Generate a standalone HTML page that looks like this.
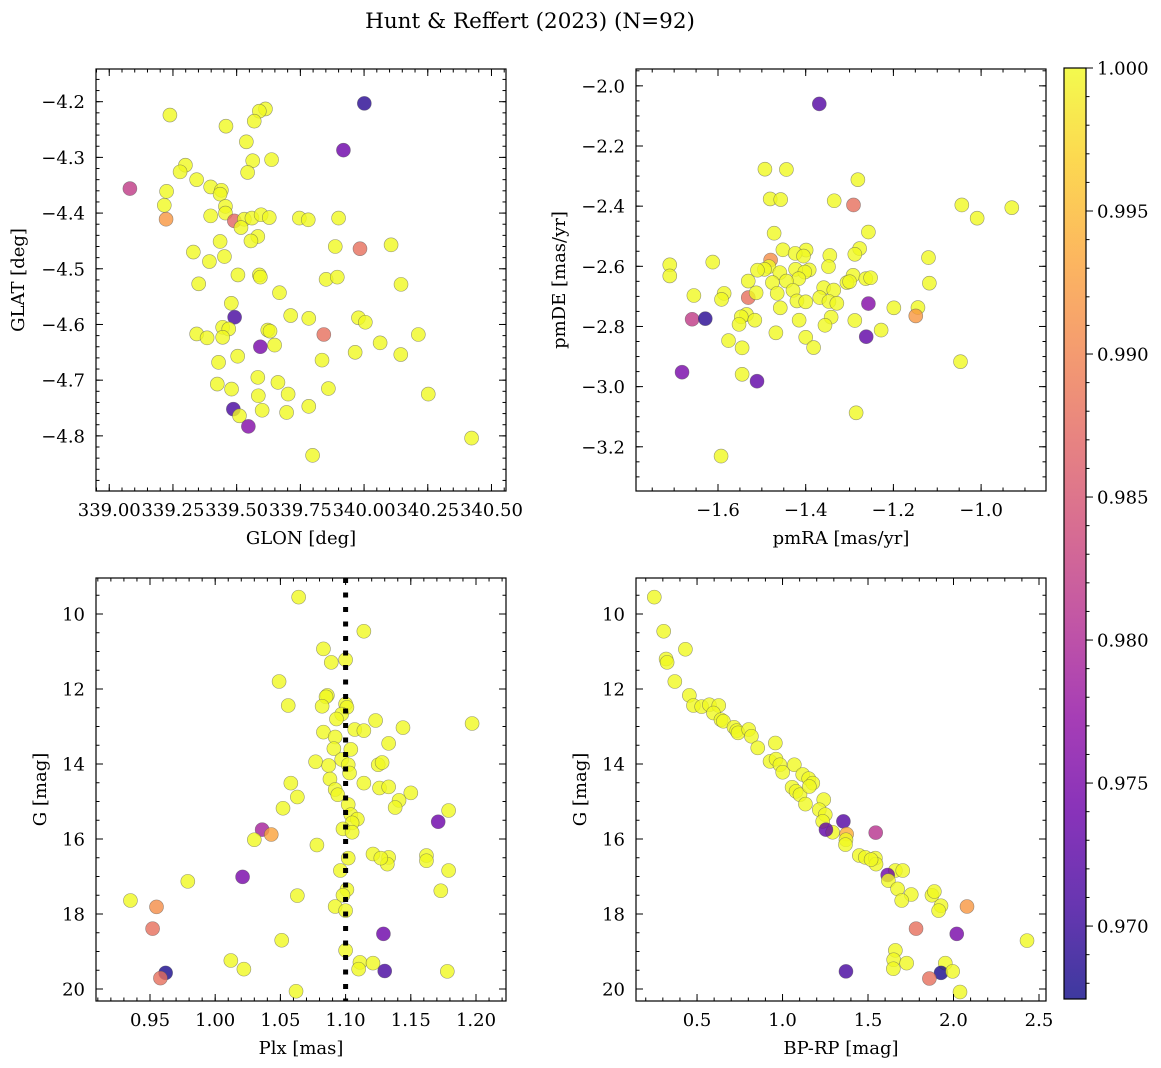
<!DOCTYPE html>
<html><head><meta charset="utf-8"><style>
html,body{margin:0;padding:0;background:#fff}
svg{display:block}
text{font-family:"DejaVu Serif","Liberation Serif",serif;fill:#000}
</style></head><body>
<svg id="fig" xmlns="http://www.w3.org/2000/svg" width="1161" height="1068" viewBox="0 0 1161 1068">
<rect width="1161" height="1068" fill="#fff"/>
<text x="530" y="28" text-anchor="middle" font-size="21.5">Hunt &amp; Reffert (2023) (N=92)</text>
</svg>
<script>
// ---------- Panel 1: GLON vs GLAT ----------
const p1Glon=[340.001,339.919,339.081,339.238,339.613,339.589,339.569,339.458,339.538,339.563,339.637,339.543,339.299,339.278,339.343,339.398,339.440,339.435,339.225,339.216,339.223,339.456,339.456,339.398,339.491,339.530,339.560,339.596,339.628,339.517,339.746,339.781,339.900,339.583,339.556,339.435,339.887,339.984,340.106,339.330,339.452,339.393,339.505,339.589,339.593,339.851,339.895,340.145,339.351,339.668,339.479,339.492,339.712,339.783,339.978,340.005,339.842,340.213,339.445,339.469,339.343,339.384,339.445,339.622,339.631,339.649,339.593,340.063,339.965,339.504,340.144,339.429,339.835,339.583,339.662,339.424,339.480,339.585,339.702,339.860,340.252,339.487,339.511,339.600,339.696,339.783,339.546,340.422,339.798];
const p1Glat=[-4.203,-4.287,-4.356,-4.224,-4.213,-4.217,-4.235,-4.244,-4.272,-4.306,-4.304,-4.327,-4.314,-4.326,-4.340,-4.353,-4.359,-4.366,-4.361,-4.386,-4.411,-4.388,-4.400,-4.405,-4.414,-4.411,-4.409,-4.403,-4.408,-4.426,-4.409,-4.412,-4.409,-4.442,-4.450,-4.451,-4.460,-4.464,-4.457,-4.470,-4.478,-4.487,-4.511,-4.511,-4.515,-4.519,-4.515,-4.528,-4.527,-4.543,-4.562,-4.587,-4.584,-4.589,-4.588,-4.596,-4.618,-4.618,-4.605,-4.608,-4.617,-4.624,-4.623,-4.610,-4.612,-4.637,-4.640,-4.633,-4.650,-4.657,-4.654,-4.668,-4.664,-4.695,-4.704,-4.707,-4.716,-4.728,-4.725,-4.715,-4.725,-4.752,-4.764,-4.754,-4.758,-4.747,-4.783,-4.804,-4.835];
const p1Prob=[0.969,0.974,0.982,1,1,1,1,1,1,1, 1,1,1,1,1,1,1,1,1,1, 0.992,1,1,1,0.987,1,1,1,1,1, 1,1,1,1,1,1,1,0.988,1,1, 1,1,1,1,1,1,1,1,1,1, 1,0.971,1,1,1,1,0.988,1,1,1, 1,1,1,1,1,1,0.975,1,1,1, 1,1,1,1,1,1,1,1,1,1, 1,0.971,1,1,1,1,0.976,1,1];
const p1XTicks=[339.00,339.25,339.50,339.75,340.00,340.25,340.50];
const p1YTicks=[-4.8,-4.7,-4.6,-4.5,-4.4,-4.3,-4.2];

// ---------- Panel 2: pmRA vs pmDE ----------
const p2PmRA=[-1.369,-1.493,-1.444,-1.281,-1.481,-1.457,-1.335,-1.291,-1.044,-0.930,-1.009,-1.472,-1.257,-1.452,-1.277,-1.288,-1.399,-1.424,-1.405,-1.345,-1.348,-1.120,-1.480,-1.710,-1.710,-1.612,-1.484,-1.494,-1.510,-1.459,-1.423,-1.392,-1.402,-1.416,-1.531,-1.476,-1.444,-1.292,-1.306,-1.300,-1.263,-1.252,-1.118,-1.359,-1.336,-1.429,-1.655,-1.586,-1.592,-1.531,-1.513,-1.465,-1.420,-1.400,-1.368,-1.347,-1.329,-1.257,-1.199,-1.144,-1.149,-1.458,-1.659,-1.629,-1.535,-1.547,-1.552,-1.516,-1.415,-1.342,-1.356,-1.288,-1.468,-1.400,-1.382,-1.262,-1.228,-1.576,-1.545,-1.047,-1.682,-1.545,-1.511,-1.285,-1.593];
const p2PmDE=[-2.060,-2.277,-2.278,-2.312,-2.376,-2.378,-2.382,-2.396,-2.396,-2.405,-2.440,-2.490,-2.486,-2.545,-2.541,-2.560,-2.546,-2.557,-2.566,-2.564,-2.601,-2.571,-2.579,-2.595,-2.632,-2.586,-2.601,-2.610,-2.613,-2.621,-2.610,-2.612,-2.619,-2.641,-2.649,-2.654,-2.649,-2.630,-2.654,-2.651,-2.641,-2.638,-2.656,-2.671,-2.679,-2.680,-2.697,-2.690,-2.710,-2.704,-2.688,-2.690,-2.715,-2.718,-2.704,-2.717,-2.723,-2.724,-2.738,-2.737,-2.765,-2.738,-2.776,-2.774,-2.760,-2.768,-2.793,-2.779,-2.779,-2.769,-2.796,-2.780,-2.821,-2.836,-2.870,-2.834,-2.812,-2.847,-2.871,-2.917,-2.952,-2.959,-2.982,-3.087,-3.231];
const p2Prob=[0.972,1,1,1,1,1,1,0.988,1,1, 1,1,1,1,1,1,1,1,1,1, 1,1,0.991,1,1,1,1,1,1,1, 1,1,1,1,1,1,1,1,1,1, 1,1,1,1,1,1,1,1,1,0.988, 1,1,1,1,1,1,1,0.976,1,1, 0.992,1,0.982,0.969,1,1,1,1,1,1, 1,1,1,1,1,0.973,1,1,1,1, 0.975,1,0.973,1,1];
const p2XTicks=[-1.6,-1.4,-1.2,-1.0];
const p2YTicks=[-3.2,-3.0,-2.8,-2.6,-2.4,-2.2,-2.0];

// ---------- Panel 3: Plx vs G ----------
const p3Plx=[1.064,1.114,1.083,1.089,1.100,1.049,1.086,1.085,1.056,1.082,1.100,1.101,1.097,1.093,1.123,1.197,1.144,1.107,1.114,1.083,1.092,1.133,1.091,1.104,1.077,1.087,1.097,1.102,1.125,1.128,1.103,1.088,1.058,1.114,1.126,1.133,1.150,1.092,1.094,1.063,1.141,1.138,1.052,1.179,1.102,1.104,1.109,1.105,1.098,1.105,1.171,1.036,1.043,1.030,1.078,1.121,1.133,1.132,1.127,1.162,1.162,1.102,1.179,1.096,1.021,0.979,1.173,1.101,1.098,1.063,0.935,0.955,1.092,1.100,0.952,1.129,1.051,1.100,1.012,1.111,1.121,1.110,1.022,1.130,1.178,0.962,0.958,1.062];
const p3G=[9.55,10.46,10.93,11.29,11.22,11.80,12.17,12.21,12.44,12.46,12.40,12.49,12.67,12.80,12.84,12.92,13.03,13.08,13.11,13.15,13.28,13.45,13.59,13.61,13.94,14.04,13.88,14.02,14.02,13.96,14.24,14.40,14.51,14.51,14.64,14.61,14.77,14.68,14.82,14.88,14.97,15.16,15.18,15.24,15.08,15.35,15.47,15.57,15.73,15.82,15.54,15.75,15.88,16.02,16.16,16.40,16.49,16.67,16.51,16.44,16.58,16.51,16.84,16.84,17.01,17.13,17.38,17.35,17.50,17.51,17.64,17.81,17.80,17.91,18.39,18.53,18.70,18.97,19.24,19.29,19.31,19.47,19.47,19.52,19.53,19.57,19.71,20.06];
const p3Prob=[1,1,1,1,1,1,1,1,1,1, 1,1,1,1,1,1,1,1,1,1, 1,1,1,1,1,1,1,1,1,1, 1,1,1,1,1,1,1,1,1,1, 1,1,1,1,1,1,1,1,1,1, 0.974,0.979,0.993,1,1,1,1,1,1,1, 1,1,1,1,0.975,1,1,1,1,1, 1,0.991,1,1,0.988,0.974,1,1,1,1, 1,1,1,0.971,1,0.968,0.988,1];
const p3XTicks=[0.95,1.00,1.05,1.10,1.15,1.20];
const p3YTicks=[10,12,14,16,18,20];
const p3PlxRef=1.1;

// ---------- Panel 4: BP-RP vs G ----------
const p4BpRp=[0.25,0.305,0.432,0.319,0.325,0.370,0.455,0.479,0.527,0.572,0.627,0.596,0.640,0.654,0.716,0.732,0.740,0.802,0.818,0.855,0.958,0.927,0.962,0.985,1.001,1.069,1.118,1.153,1.177,1.056,1.079,1.102,1.134,1.157,1.241,1.215,1.250,1.235,1.293,1.254,1.356,1.545,1.375,1.371,1.368,1.449,1.484,1.543,1.547,1.518,1.660,1.703,1.615,1.619,1.673,1.753,1.697,1.874,1.888,1.927,1.913,2.079,1.781,2.019,2.430,1.660,1.650,1.726,1.648,1.371,1.952,1.927,1.995,1.859,2.038];
const p4G=[9.55,10.46,10.94,11.20,11.29,11.80,12.17,12.44,12.47,12.42,12.44,12.64,12.82,12.86,13.02,13.11,13.17,13.08,13.26,13.57,13.44,13.93,13.87,14.02,14.22,14.02,14.28,14.39,14.51,14.62,14.73,14.82,15.07,14.60,14.95,15.22,15.35,15.53,15.82,15.75,15.53,15.83,15.87,16.02,16.15,16.44,16.49,16.51,16.67,16.55,16.84,16.84,16.96,17.11,17.33,17.48,17.64,17.50,17.40,17.78,17.91,17.80,18.39,18.53,18.71,18.97,19.22,19.31,19.46,19.53,19.31,19.57,19.53,19.72,20.08];
const p4Prob=[1,1,1,1,1,1,1,1,1,1, 1,1,1,1,1,1,1,1,1,1, 1,1,1,1,1,1,1,1,1,1, 1,1,1,1,1,1,1,1,1,0.973, 0.972,0.981,0.994,1,1,1,1,1,1,1, 1,1,0.974,1,1,1,1,1,1,1, 1,0.992,0.988,0.975,1,1,1,1,1,0.971, 1,0.968,1,0.988,1];
const p4XTicks=[0.5,1.0,1.5,2.0,2.5];
const p4YTicks=[10,12,14,16,18,20];

// ---------- Colorbar ----------
const cbTicks=[0.970,0.975,0.980,0.985,0.990,0.995,1.000];
const cbMin=0.96745, cbMax=1.0;

const NS='http://www.w3.org/2000/svg';
const svg=document.getElementById('fig');
const FS=18;
function mk(tag,attrs,parent){const e=document.createElementNS(NS,tag);for(const k in attrs)e.setAttribute(k,attrs[k]);(parent||svg).appendChild(e);return e;}
const plasmaStops=[[0,13,8,135],[0.1,65,4,157],[0.2,106,0,168],[0.3,143,13,164],[0.4,177,42,144],[0.5,204,71,120],[0.6,225,100,98],[0.7,242,132,75],[0.8,252,166,54],[0.9,252,206,37],[1,240,249,33]];
function plasma(t){t=Math.max(0,Math.min(1,t));for(let i=1;i<plasmaStops.length;i++){const a=plasmaStops[i-1],b=plasmaStops[i];if(t<=b[0]){const f=(t-a[0])/(b[0]-a[0]);return `rgb(${Math.round(a[1]+f*(b[1]-a[1]))},${Math.round(a[2]+f*(b[2]-a[2]))},${Math.round(a[3]+f*(b[3]-a[3]))})`;}}return 'rgb(240,249,33)';}
function fmt(v,d){return (v<0?'\u2212':'')+Math.abs(v).toFixed(d);}

function panel(c){
  const g=mk('g',{});
  
  
  const sx=v=>c.L+(v-c.x0)/(c.x1-c.x0)*(c.R-c.L);
  const sy=v=>c.B-(v-c.y0)/(c.y1-c.y0)*(c.B-c.T);
  const pg=mk('g',{},g);
  
  
  for(let i=0;i<c.xs.length;i++){
    const p=mk('circle',{cx:sx(c.xs[i]),cy:sy(c.ys[i]),r:7,fill:plasma((c.ps[i]-cbMin)/(cbMax-cbMin)),'fill-opacity':0.8,stroke:'#555','stroke-opacity':0.6,'stroke-width':0.6},pg);
    
    
  }
  if(c.ref!==undefined){
    const l=mk('line',{x1:sx(c.ref),x2:sx(c.ref),y1:c.T,y2:c.B,stroke:'#000','stroke-width':5,'stroke-dasharray':'5 9.5'},g);
    
    
  }
  const f=mk('rect',{x:c.L,y:c.T,width:c.R-c.L,height:c.B-c.T,fill:'none',stroke:'#000','stroke-width':1.2},g);
  
  
  const eps=1e-9;
  const xs0=Math.ceil(Math.min(c.x0,c.x1)/c.xm-eps)*c.xm;
  for(let v=xs0;v<=Math.max(c.x0,c.x1)+eps;v+=c.xm){const x=sx(v);mk('line',{x1:x,x2:x,y1:c.B,y2:c.B-3.5,stroke:'#000'},g);mk('line',{x1:x,x2:x,y1:c.T,y2:c.T+3.5,stroke:'#000'},g);}
  const ys0=Math.ceil(Math.min(c.y0,c.y1)/c.ym-eps)*c.ym;
  for(let v=ys0;v<=Math.max(c.y0,c.y1)+eps;v+=c.ym){const y=sy(v);mk('line',{x1:c.L,x2:c.L+3.5,y1:y,y2:y,stroke:'#000'},g);mk('line',{x1:c.R,x2:c.R-3.5,y1:y,y2:y,stroke:'#000'},g);}
  c.xt.forEach(v=>{const x=sx(v);mk('line',{x1:x,x2:x,y1:c.B,y2:c.B-7,stroke:'#000'},g);mk('line',{x1:x,x2:x,y1:c.T,y2:c.T+7,stroke:'#000'},g);
    const t=mk('text',{x:x,y:c.B+25,'text-anchor':'middle','font-size':FS},g);t.textContent=fmt(v,c.xd);
    
    });
  c.yt.forEach(v=>{const y=sy(v);mk('line',{x1:c.L,x2:c.L+7,y1:y,y2:y,stroke:'#000'},g);mk('line',{x1:c.R,x2:c.R-7,y1:y,y2:y,stroke:'#000'},g);
    const t=mk('text',{x:c.L-11,y:y+6.5,'text-anchor':'end','font-size':FS},g);t.textContent=fmt(v,c.yd);
    
    });
  const xl=mk('text',{x:(c.L+c.R)/2,y:c.B+53,'text-anchor':'middle','font-size':FS},g);xl.textContent=c.xlab;
  
  
  const yx=c.ylx,yy=(c.T+c.B)/2;
  const yl=mk('text',{x:yx,y:yy,'text-anchor':'middle','font-size':FS,transform:`rotate(-90 ${yx} ${yy})`},g);yl.textContent=c.ylab;
  
  
}

panel({name:'glon-glat-panel',L:96,R:506,T:69,B:491,x0:338.948,x1:340.557,y0:-4.899,y1:-4.1413,xs:p1Glon,ys:p1Glat,ps:p1Prob,xt:p1XTicks,yt:p1YTicks,xm:0.05,ym:0.02,xd:2,yd:1,xlab:'GLON [deg]',ylab:'GLAT [deg]',ylx:24});
panel({name:'pm-panel',L:636,R:1046,T:69,B:491,x0:-1.787,x1:-0.852,y0:-3.347,y1:-1.944,xs:p2PmRA,ys:p2PmDE,ps:p2Prob,xt:p2XTicks,yt:p2YTicks,xm:0.05,ym:0.05,xd:1,yd:1,xlab:'pmRA [mas/yr]',ylab:'pmDE [mas/yr]',ylx:565});
panel({name:'plx-g-panel',L:96,R:506,T:578,B:1001,x0:0.9086,x1:1.2230,y0:20.32,y1:9.04,xs:p3Plx,ys:p3G,ps:p3Prob,xt:p3XTicks,yt:p3YTicks,xm:0.01,ym:0.5,xd:2,yd:0,xlab:'Plx [mas]',ylab:'G [mag]',ylx:46,ref:p3PlxRef});
panel({name:'cmd-panel',L:636,R:1046,T:578,B:1001,x0:0.143,x1:2.541,y0:20.32,y1:9.04,xs:p4BpRp,ys:p4G,ps:p4Prob,xt:p4XTicks,yt:p4YTicks,xm:0.1,ym:0.5,xd:1,yd:0,xlab:'BP-RP [mag]',ylab:'G [mag]',ylx:586});

(function(){
  const L=1064,R=1086,T=68,B=999;
  const g=mk('g',{});
  
  
  const defs=mk('defs',{},g);
  const lg=mk('linearGradient',{id:'cbg',x1:0,y1:1,x2:0,y2:0},defs);
  for(let i=0;i<=20;i++){mk('stop',{offset:i/20,'stop-color':plasma(i/20)},lg);}
  mk('rect',{x:L,y:T,width:R-L,height:B-T,fill:'url(#cbg)','fill-opacity':0.8},g);
  mk('rect',{x:L,y:T,width:R-L,height:B-T,fill:'none',stroke:'#000','stroke-width':1.2},g);
  const sy=v=>B-(v-cbMin)/(cbMax-cbMin)*(B-T);
  for(let k=Math.ceil(cbMin*1000-1e-6);k<=1000;k++){const y=sy(k/1000);mk('line',{x1:R,x2:R+3.5,y1:y,y2:y,stroke:'#000'},g);}
  cbTicks.forEach(v=>{const y=sy(v);mk('line',{x1:R,x2:R+7,y1:y,y2:y,stroke:'#000'},g);
    const t=mk('text',{x:R+11,y:y+6.5,'font-size':FS},g);t.textContent=v.toFixed(3);
    
    });
})();
</script>
</body></html>
